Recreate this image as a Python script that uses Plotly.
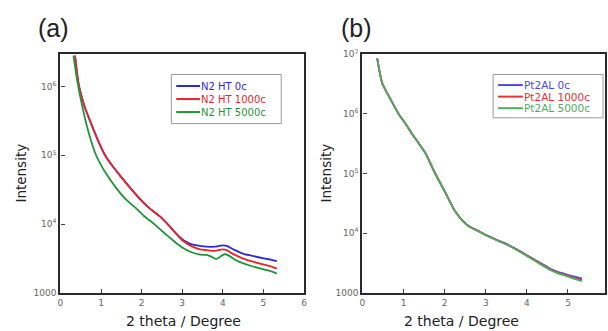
import plotly.graph_objects as go

# ---------------- Data (panel a) ----------------
a_names = ["N2 HT 0c", "N2 HT 1000c", "N2 HT 5000c"]
a_x_rb = [0.36, 0.40, 0.45, 0.52, 0.60, 0.73, 0.90, 1.10, 1.25, 1.42, 1.58, 1.74, 1.95, 2.19, 2.45, 2.67,
          2.85, 3.00, 3.10, 3.20, 3.44, 3.60, 3.80, 3.99, 4.10, 4.20, 4.30, 4.49, 4.70, 5.01, 5.20, 5.33]
a_y_blue = [2.82e6, 1.74e6, 1.07e6, 7.2e5, 5.0e5, 3.16e5, 1.78e5, 1.0e5, 7.4e4, 5.5e4, 4.2e4, 3.24e4,
            2.34e4, 1.7e4, 1.29e4, 9550, 7250, 6000, 5500, 5150, 4800, 4680, 4680, 4900, 4800, 4470,
            4170, 3720, 3470, 3160, 3020, 2880]
a_y_red = [2.82e6, 1.74e6, 1.07e6, 7.2e5, 5.0e5, 3.16e5, 1.78e5, 1.0e5, 7.4e4, 5.5e4, 4.2e4, 3.24e4,
           2.34e4, 1.7e4, 1.29e4, 9550, 7250, 5800, 5250, 4850, 4270, 4170, 4070, 4270, 4170, 3800,
           3550, 3160, 2880, 2570, 2400, 2240]
a_x_green = [0.32, 0.37, 0.42, 0.50, 0.62, 0.75, 0.88, 1.00, 1.10, 1.38, 1.60, 1.86, 2.05, 2.31, 2.50,
             2.70, 2.85, 3.00, 3.20, 3.44, 3.60, 3.70, 3.84, 3.95, 4.04, 4.15, 4.30, 4.49, 4.70, 5.01,
             5.20, 5.33]
a_y_green = [2.82e6, 1.78e6, 1.15e6, 6.6e5, 3.16e5, 1.66e5, 1.0e5, 7.2e4, 5.7e4, 3.3e4, 2.32e4, 1.7e4,
             1.32e4, 1.0e4, 7900, 6300, 5300, 4550, 3950, 3580, 3550, 3390, 3090, 3390, 3630, 3470,
             3020, 2690, 2450, 2190, 2040, 1900]

# ---------------- Data (panel b) ----------------
b_names = ["Pt2AL 0c", "Pt2AL 1000c", "Pt2AL 5000c"]
b_x = [0.36, 0.48, 0.68, 0.88, 1.05, 1.21, 1.53, 1.77, 2.01, 2.25, 2.45, 2.60, 2.80, 3.00, 3.29,
       3.50, 3.70, 3.90, 4.10, 4.30, 4.58, 4.75, 4.90, 5.10, 5.34]
b_y_blue = [8.5e6, 3.3e6, 1.78e6, 1.0e6, 6.8e5, 4.6e5, 2.2e5, 1.0e5, 4.9e4, 2.35e4, 1.58e4, 1.29e4,
            1.1e4, 9330, 7590, 6610, 5620, 4680, 3890, 3240, 2500, 2240, 2090, 1900, 1740]
b_y_red = [8.5e6, 3.3e6, 1.78e6, 1.0e6, 6.8e5, 4.6e5, 2.2e5, 1.0e5, 4.9e4, 2.35e4, 1.58e4, 1.29e4,
           1.1e4, 9280, 7520, 6520, 5540, 4600, 3820, 3170, 2420, 2180, 2030, 1820, 1640]
b_y_green = [8.5e6, 3.3e6, 1.78e6, 1.0e6, 6.8e5, 4.6e5, 2.2e5, 1.0e5, 4.9e4, 2.35e4, 1.58e4, 1.28e4,
             1.09e4, 9220, 7450, 6450, 5480, 4540, 3760, 3100, 2380, 2120, 1980, 1760, 1560]

x_ticks = [0, 1, 2, 3, 4, 5, 6]
y_ticks_a = [1000, 1e4, 1e5, 1e6]
y_text_a = ["1000", "10<sup>4</sup>", "10<sup>5</sup>", "10<sup>6</sup>"]
y_ticks_b = [1000, 1e4, 1e5, 1e6, 1e7]
y_text_b = ["1000", "10<sup>4</sup>", "10<sup>5</sup>", "10<sup>6</sup>", "10<sup>7</sup>"]

col_a = ["#2b2bd6", "#e8262a", "#1f9638"]
col_b = ["#4a4ae6", "#e63232", "#4cae5c"]

fig = go.Figure()
a_sets = [(a_x_rb, a_y_blue), (a_x_rb, a_y_red), (a_x_green, a_y_green)]
for (xs, ys), n, c in zip(a_sets, a_names, col_a):
    fig.add_trace(go.Scatter(x=xs, y=ys, mode="lines", line=dict(color=c, width=1.8, shape="spline",
                                                                   smoothing=0.6),
                             name=n, xaxis="x", yaxis="y", showlegend=False))
for ys, n, c in zip([b_y_blue, b_y_red, b_y_green], b_names, col_b):
    fig.add_trace(go.Scatter(x=b_x, y=ys, mode="lines", line=dict(color=c, width=1.8, shape="spline",
                                                                  smoothing=0.6),
                             name=n, xaxis="x2", yaxis="y2", showlegend=False))

W, H = 608, 331
def px(xp): return xp / W
def py(yp): return 1 - yp / H

SMALL = "DejaVu Sans"
axis_common = dict(showline=True, linecolor="#2a2a2a", linewidth=2.2, mirror=True, ticks="inside",
                   ticklen=4, tickwidth=1, tickcolor="#444", showgrid=False, zeroline=False,
                   tickfont=dict(size=9, color="#666", family=SMALL))

fig.update_layout(
    width=W, height=H, margin=dict(l=0, r=0, t=0, b=0),
    paper_bgcolor="white", plot_bgcolor="white",
    font=dict(family="Liberation Sans", color="#222"),
    xaxis=dict(domain=[px(58), px(304)], range=[0, 6], tickvals=x_ticks, anchor="y", **axis_common),
    yaxis=dict(domain=[py(296.5), py(49)], type="log", range=[3, 6.47], tickvals=y_ticks_a,
               ticktext=y_text_a, anchor="x", **axis_common),
    xaxis2=dict(domain=[px(363), 1.0], range=[0, 5.9], tickvals=x_ticks, anchor="y2", **axis_common),
    yaxis2=dict(domain=[py(296.5), py(49)], type="log", range=[3, 7], tickvals=y_ticks_b,
                ticktext=y_text_b, anchor="x2", **axis_common),
    showlegend=False,
)

# ---- manual legends (box, line samples, coloured labels) ----
def add_legend(box, x_line, x_text, rows, names, colors, fsize):
    x0, y0, x1, y1 = box
    fig.add_shape(type="rect", xref="paper", yref="paper", x0=px(x0), x1=px(x1), y0=py(y1), y1=py(y0),
                  line=dict(color="#9a9a9a", width=1), fillcolor="white", layer="above")
    for r, n, c in zip(rows, names, colors):
        fig.add_shape(type="line", xref="paper", yref="paper", x0=px(x_line[0]), x1=px(x_line[1]),
                      y0=py(r), y1=py(r), line=dict(color=c, width=2), layer="above")
        fig.add_annotation(xref="paper", yref="paper", x=px(x_text), y=py(r), text=n, showarrow=False,
                           xanchor="left", yanchor="middle", borderpad=0,
                           font=dict(size=fsize, color=c, family=SMALL))

add_legend((170, 70, 281, 121), (175, 199), 199, [82, 95.5, 109], a_names, col_a, 10)
add_legend((495, 70, 606, 115), (500, 525), 525, [81, 93, 105], b_names, col_b, 10.5)

annots = [
    dict(text="(a)", x=px(51), y=py(22), xanchor="center", yanchor="middle", font=dict(size=25)),
    dict(text="(b)", x=px(357), y=py(22), xanchor="center", yanchor="middle", font=dict(size=25)),
    dict(text="Intensity", x=px(18), y=py(172), textangle=-90, xanchor="center", yanchor="middle",
         font=dict(size=13.5, family=SMALL)),
    dict(text="Intensity", x=px(326), y=py(172), textangle=-90, xanchor="center", yanchor="middle",
         font=dict(size=13.5, family=SMALL)),
    dict(text="2 theta / Degree", x=px(182), y=py(326), xanchor="center", yanchor="middle",
         font=dict(size=14, family=SMALL)),
    dict(text="2 theta / Degree", x=px(463), y=py(326), xanchor="center", yanchor="middle",
         font=dict(size=14, family=SMALL)),
]
for a in annots:
    fig.add_annotation(xref="paper", yref="paper", showarrow=False, **a)

fig.write_html("out.html", config={"displayModeBar": False},
               post_script="document.body.style.margin='0';document.body.style.overflow='hidden';")
